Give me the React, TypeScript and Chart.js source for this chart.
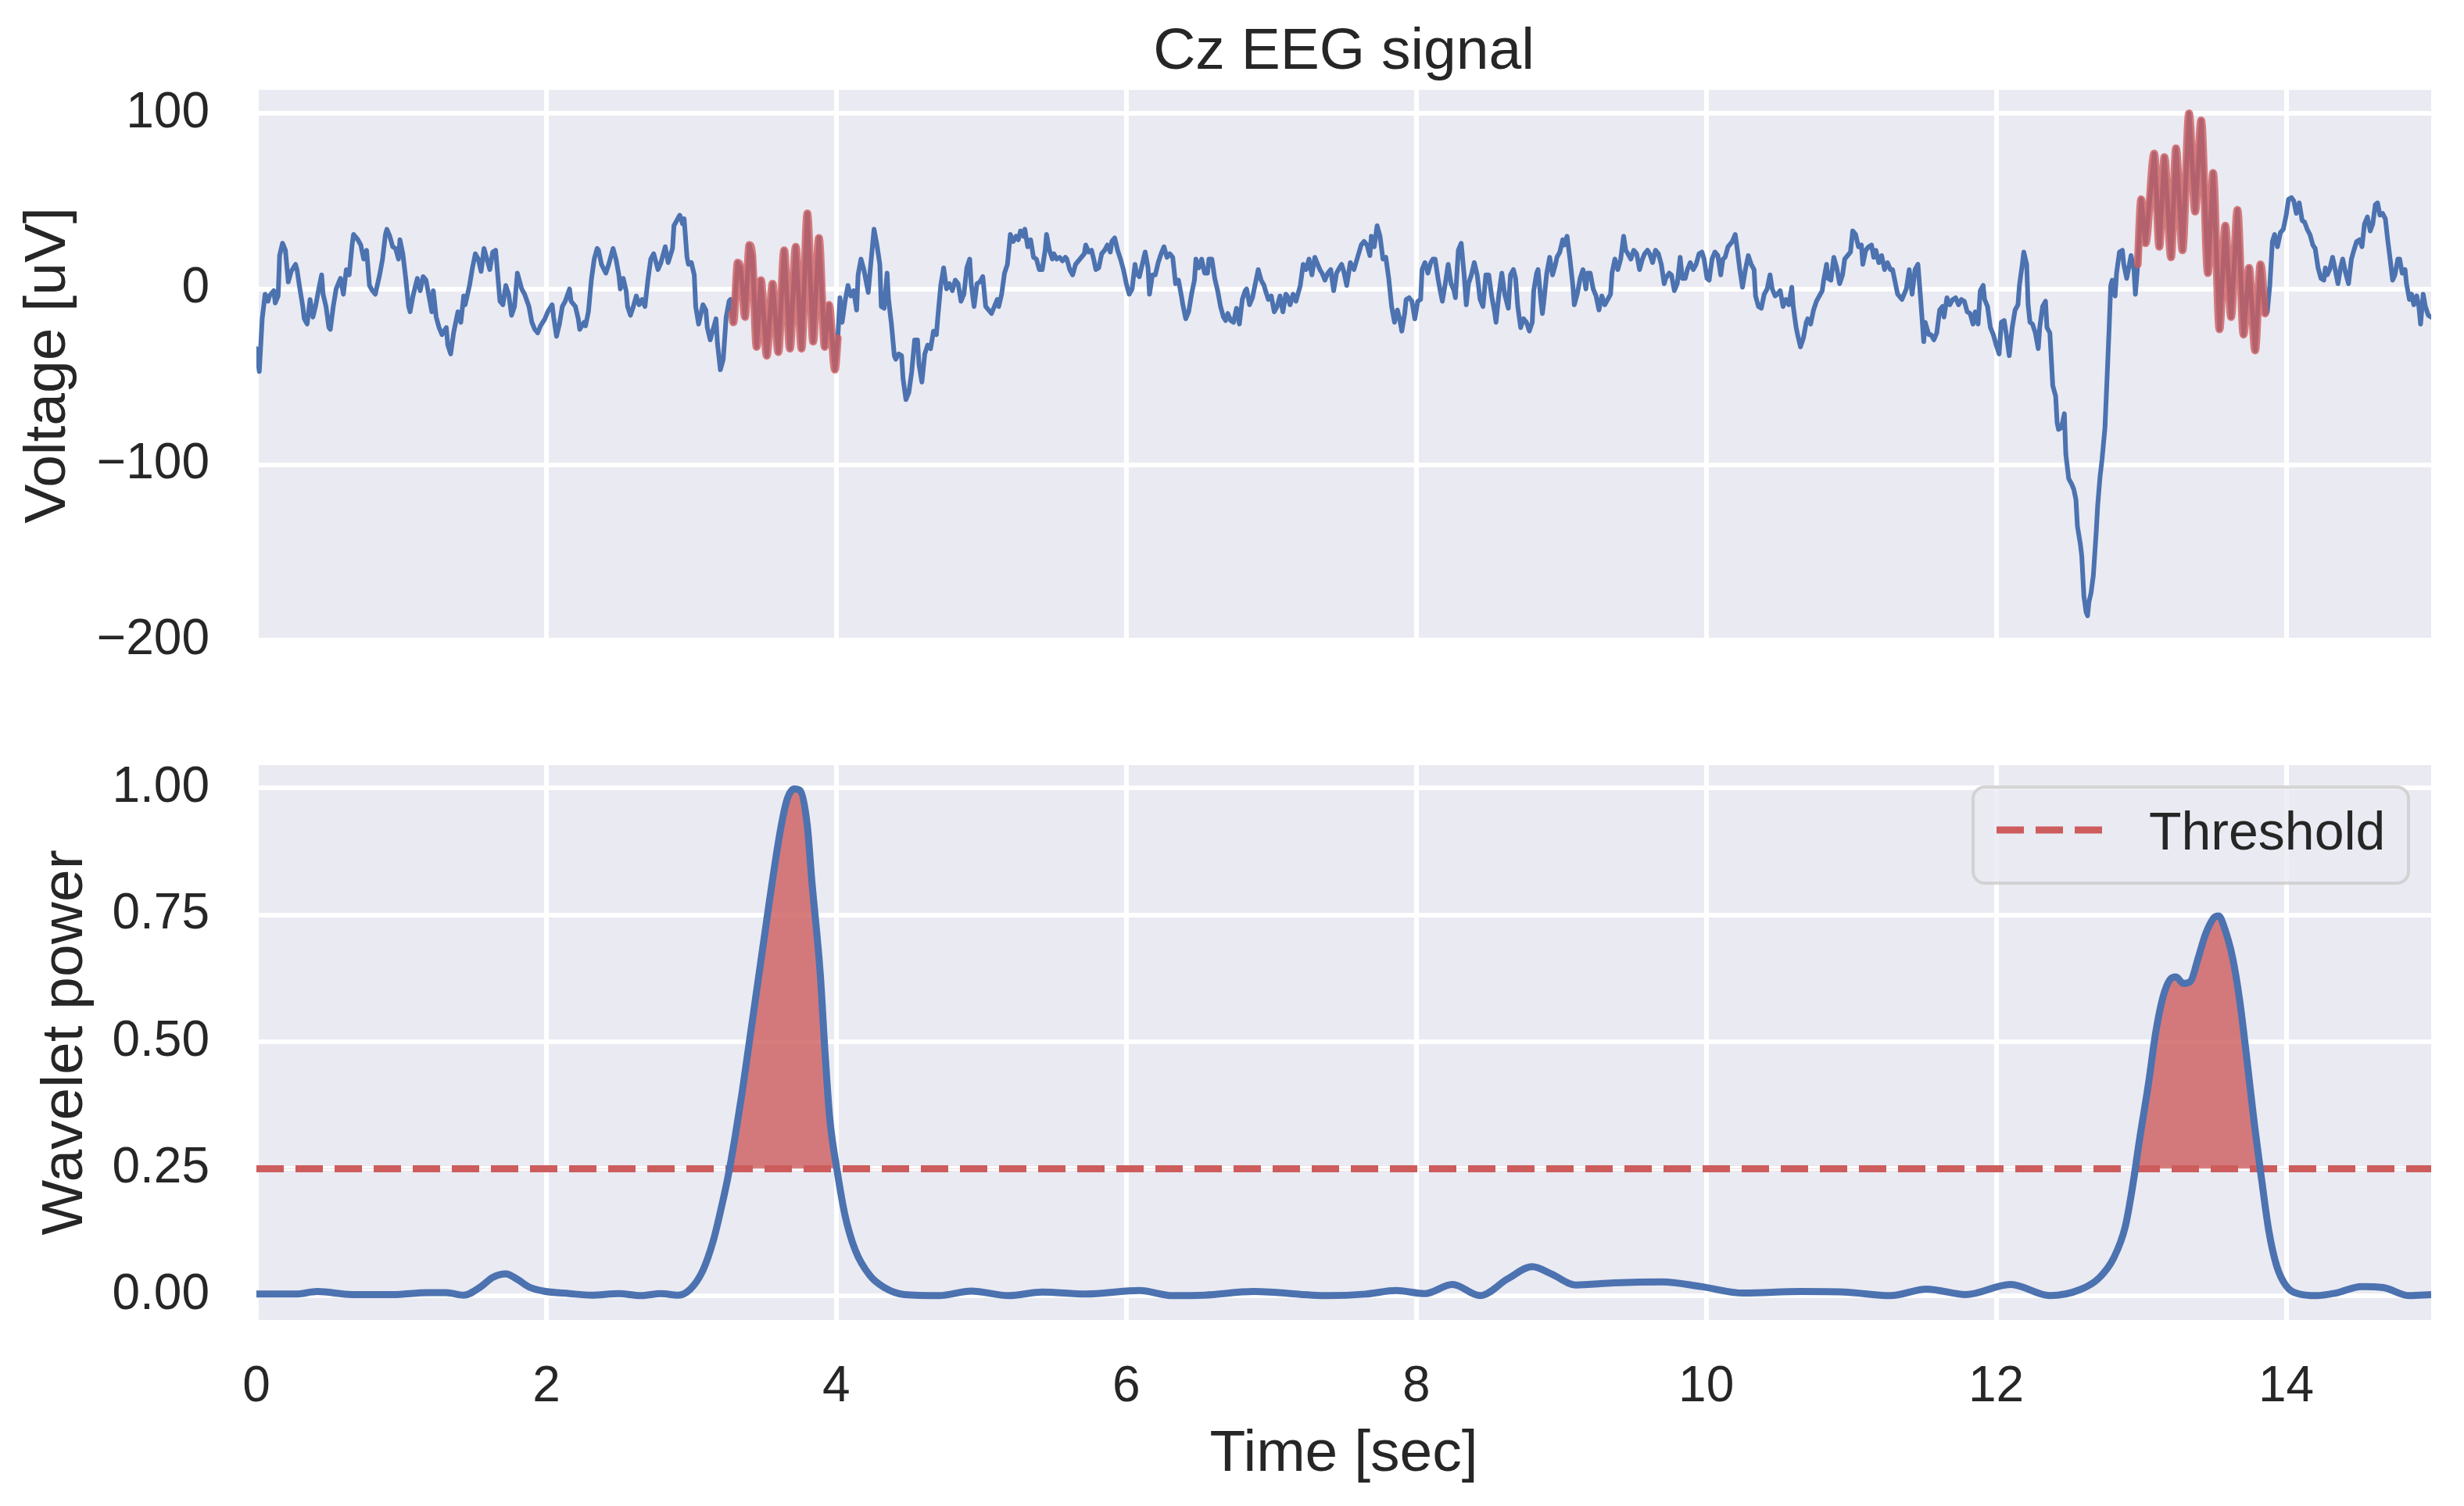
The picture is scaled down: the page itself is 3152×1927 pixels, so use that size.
import { useEffect, useRef } from "react";
import { Chart, registerables } from "chart.js";

Chart.register(...registerables);

// ---------------- DATA ----------------
const TITLE = "Cz EEG signal";
const Y_LABEL_TOP = "Voltage [uV]";
const Y_LABEL_BOTTOM = "Wavelet power";
const X_LABEL = "Time [sec]";
const LEGEND_LABEL = "Threshold";
const THRESHOLD = 0.25;

const X_TICKS = [0, 2, 4, 6, 8, 10, 12, 14];
const Y_TICKS_TOP = [-200, -100, 0, 100];
const Y_TICKS_BOTTOM = [0, 0.25, 0.5, 0.75, 1.0];

// EEG signal [time (s), voltage (uV)]
const eegSegmentA: [number, number][] = [
  [0.0, -34], [0.02, -47], [0.04, -17], [0.06, -3], [0.08, -7], [0.09, -4], [0.12, -1], [0.13, -8], [0.15, -4],
  [0.16, 19], [0.18, 26], [0.2, 22], [0.22, 4], [0.24, 10], [0.27, 14], [0.28, 11], [0.3, 0], [0.32, -10],
  [0.33, -17], [0.35, -20], [0.37, -6], [0.39, -16], [0.41, -9], [0.43, 0], [0.45, 8], [0.46, -3], [0.48, -10],
  [0.5, -22], [0.51, -23], [0.53, -10], [0.55, 0], [0.58, 6], [0.6, -3], [0.62, 11], [0.64, 8], [0.66, 25],
  [0.67, 31], [0.7, 28], [0.72, 25], [0.74, 17], [0.76, 22], [0.78, 2], [0.8, -1], [0.82, -3], [0.85, 8],
  [0.87, 17], [0.89, 31], [0.9, 34], [0.92, 30], [0.94, 24], [0.96, 23], [0.98, 17], [0.99, 28], [1.01, 20],
  [1.03, 6], [1.05, -10], [1.06, -13], [1.08, -4], [1.11, 6], [1.13, -1], [1.15, 7], [1.17, 5], [1.19, -4],
  [1.21, -13], [1.22, -1], [1.24, -16], [1.26, -22], [1.28, -26], [1.31, -22], [1.32, -32], [1.34, -37],
  [1.36, -25], [1.39, -13], [1.41, -19], [1.43, -4], [1.44, -9], [1.47, 2], [1.49, 12], [1.51, 20], [1.53, 17],
  [1.55, 10], [1.57, 23], [1.59, 17], [1.61, 11], [1.63, 21], [1.65, 22], [1.68, -7], [1.7, -9], [1.72, 2],
  [1.74, -3], [1.76, -15], [1.78, -10], [1.8, 9], [1.83, 0], [1.85, -3], [1.88, -10], [1.9, -19], [1.92, -23],
  [1.94, -25], [1.96, -21], [1.99, -17], [2.01, -13], [2.04, -9], [2.05, -16], [2.07, -27], [2.09, -20],
  [2.11, -10], [2.13, -7], [2.16, 0], [2.17, -7], [2.2, -10], [2.22, -17], [2.23, -23], [2.26, -19], [2.27, -21],
  [2.29, -13], [2.31, 5], [2.33, 17], [2.35, 23], [2.36, 22], [2.38, 14], [2.41, 9], [2.43, 14], [2.46, 23],
  [2.48, 17], [2.5, 8], [2.51, 0], [2.53, 6], [2.55, -1], [2.56, -10], [2.58, -15], [2.6, -10], [2.62, -4],
  [2.64, -9], [2.66, -6], [2.68, -10], [2.7, 5], [2.72, 17], [2.74, 20], [2.77, 11], [2.79, 15], [2.82, 24],
  [2.84, 15], [2.87, 23], [2.88, 36], [2.9, 39], [2.92, 42], [2.94, 37], [2.95, 40], [2.97, 18], [2.98, 14],
  [3.0, 15], [3.02, 8], [3.03, -10], [3.05, -20], [3.08, -9], [3.1, -12], [3.11, -22], [3.13, -29], [3.15, -23],
  [3.17, -17], [3.18, -31], [3.2, -46], [3.22, -40], [3.24, -16], [3.26, -7], [3.27, -6],
];

const spindleOne: [number, number][] = [
  [3.28, -14], [3.29, -19], [3.32, 15], [3.34, 12], [3.37, -16], [3.4, 25], [3.42, 19], [3.45, -33], [3.48, 5],
  [3.52, -38], [3.56, 3], [3.6, -36], [3.64, 22], [3.68, -34], [3.72, 24], [3.76, -34], [3.8, 43], [3.84, -30],
  [3.88, 29], [3.92, -33], [3.95, -9], [3.99, -46], [4.01, -28],
];

const eegSegmentB: [number, number][] = [
  [4.025, -5], [4.04, -19], [4.06, -7], [4.08, 2], [4.1, -4], [4.12, -1], [4.14, -12], [4.15, 8], [4.17, 17],
  [4.19, 11], [4.22, -2], [4.235, 12], [4.26, 34], [4.28, 25], [4.3, 14], [4.31, -10], [4.33, -11], [4.35, 9],
  [4.36, -6], [4.38, -20], [4.4, -38], [4.41, -40], [4.43, -37], [4.45, -38], [4.46, -51], [4.48, -63],
  [4.5, -59], [4.52, -47], [4.54, -29], [4.56, -29], [4.57, -43], [4.59, -53], [4.61, -37], [4.63, -32],
  [4.65, -34], [4.67, -24], [4.69, -26], [4.7, -16], [4.72, 2], [4.74, 12], [4.76, 0], [4.78, 3], [4.8, -1],
  [4.82, 5], [4.84, 3], [4.86, -7], [4.88, -3], [4.9, 12], [4.92, 17], [4.93, 3], [4.95, -10], [4.97, 3],
  [4.99, 4], [5.01, 7], [5.03, -10], [5.05, -12], [5.07, -14], [5.09, -10], [5.11, -6], [5.12, -10], [5.14, -3],
  [5.16, 9], [5.18, 14], [5.2, 31], [5.22, 27], [5.24, 30], [5.255, 28], [5.27, 33], [5.29, 30], [5.3, 34],
  [5.32, 24], [5.34, 28], [5.36, 18], [5.38, 17], [5.4, 11], [5.42, 11], [5.44, 22], [5.45, 31], [5.47, 22],
  [5.49, 17], [5.5, 20], [5.52, 17], [5.54, 18], [5.56, 16], [5.58, 18], [5.59, 17], [5.61, 11], [5.63, 8],
  [5.65, 14], [5.67, 16], [5.69, 18], [5.71, 20], [5.72, 25], [5.74, 21], [5.76, 22], [5.775, 17], [5.79, 11],
  [5.81, 12], [5.83, 20], [5.85, 22], [5.87, 25], [5.89, 21], [5.9, 27], [5.92, 29], [5.94, 22], [5.96, 17],
  [5.98, 11], [6.0, 3], [6.02, -3], [6.04, 0], [6.06, 14], [6.07, 9], [6.09, 7], [6.11, 14], [6.13, 21],
  [6.15, 12], [6.16, -3], [6.18, 8], [6.2, 8], [6.22, 15], [6.24, 20], [6.26, 24], [6.28, 18], [6.3, 20],
  [6.32, 18], [6.34, 3], [6.36, 5], [6.38, -4], [6.39, -9], [6.41, -17], [6.43, -13], [6.45, -3], [6.47, 5],
  [6.48, 17], [6.5, 12], [6.52, 17], [6.54, 9], [6.56, 9], [6.57, 17], [6.59, 17], [6.61, 6], [6.63, -1],
  [6.65, -10], [6.67, -16], [6.685, -18], [6.7, -14], [6.72, -18], [6.74, -19], [6.76, -11], [6.78, -20],
  [6.8, -6], [6.82, -1], [6.83, 0], [6.85, -9], [6.87, -5], [6.89, 3], [6.91, 11], [6.93, 5], [6.95, 2],
  [6.96, -1], [6.98, -6], [7.0, -4], [7.02, -13], [7.04, -10], [7.06, -4], [7.08, -13], [7.1, -3], [7.11, -4],
  [7.13, -9], [7.15, -3], [7.17, -7], [7.19, -1], [7.2, 2], [7.22, 14], [7.24, 11], [7.26, 17], [7.28, 8],
  [7.3, 18], [7.32, 14], [7.335, 11], [7.35, 9], [7.37, 5], [7.39, 9], [7.41, 11], [7.43, -1], [7.45, 9],
  [7.47, 12], [7.485, 14], [7.5, 10], [7.52, 2], [7.545, 15], [7.57, 11], [7.595, 18], [7.62, 25], [7.64, 27],
  [7.66, 25], [7.68, 19], [7.69, 30], [7.71, 24], [7.73, 36], [7.75, 30], [7.77, 17], [7.79, 18], [7.81, 6],
  [7.83, -10], [7.85, -19], [7.87, -12], [7.885, -17], [7.9, -24], [7.92, -14], [7.93, -6], [7.95, -5],
  [7.97, -7], [7.99, -17], [8.01, -7], [8.03, -6], [8.04, 11], [8.06, 15], [8.08, 9], [8.1, 15], [8.115, 17],
  [8.13, 17], [8.15, 6], [8.165, -1], [8.18, -7], [8.2, 3], [8.22, 14], [8.24, 3], [8.26, -1], [8.27, -5],
  [8.29, 22], [8.31, 26], [8.33, 8], [8.345, -9], [8.36, 3], [8.38, 8], [8.4, 15], [8.42, 8], [8.44, -6],
  [8.46, -10], [8.48, 8], [8.5, 8], [8.52, -4], [8.54, -13], [8.55, -19], [8.57, -3], [8.59, 9], [8.61, -3],
  [8.635, -11], [8.65, 8], [8.67, 11], [8.685, 6], [8.7, -10], [8.72, -22], [8.74, -17], [8.76, -19],
  [8.78, -24], [8.8, -19], [8.81, -1], [8.83, 9], [8.84, 11], [8.86, -7], [8.87, -14], [8.88, -7], [8.9, 9],
  [8.92, 18], [8.94, 8], [8.96, 14], [8.97, 18], [8.99, 21], [9.01, 28], [9.02, 25], [9.04, 30], [9.06, 17],
  [9.08, 2], [9.09, -9], [9.11, -3], [9.13, 6], [9.15, 11], [9.17, 0], [9.18, 9], [9.2, 9], [9.22, 0],
  [9.24, -4], [9.26, -12], [9.28, -4], [9.3, -9], [9.32, -6], [9.34, -3], [9.35, 9], [9.37, 17], [9.39, 11],
  [9.41, 17], [9.43, 30], [9.445, 22], [9.46, 20], [9.48, 17], [9.5, 22], [9.52, 20], [9.54, 11], [9.56, 17],
  [9.575, 20], [9.595, 22], [9.61, 20], [9.63, 15], [9.65, 22], [9.67, 20], [9.69, 14], [9.71, 3], [9.72, 6],
  [9.745, 9], [9.76, 8], [9.78, -1], [9.8, 3], [9.82, 18], [9.835, 6], [9.855, 6], [9.87, 11], [9.89, 15],
  [9.91, 11], [9.93, 14], [9.95, 20], [9.97, 21], [9.985, 17], [10.005, 6], [10.02, 5], [10.04, 17],
  [10.06, 21], [10.08, 19], [10.1, 8], [10.115, 17], [10.13, 18], [10.15, 24], [10.18, 27], [10.2, 31],
  [10.215, 22], [10.23, 12], [10.25, 1], [10.27, 11], [10.29, 19], [10.31, 14], [10.33, 11], [10.34, -4],
  [10.36, -10], [10.38, -11], [10.4, -3], [10.42, 0], [10.44, 8], [10.455, 0], [10.475, -4], [10.49, -3],
  [10.51, -1], [10.53, -10], [10.55, -6], [10.57, -9], [10.59, 1], [10.6, -10], [10.62, -22], [10.63, -26],
  [10.65, -33], [10.67, -28], [10.69, -19], [10.7, -17], [10.72, -20], [10.74, -12], [10.76, -7], [10.78, -4],
  [10.8, -1], [10.81, 5], [10.83, 14], [10.84, 6], [10.86, 5], [10.88, 18], [10.9, 12], [10.92, 3], [10.94, 8],
  [10.955, 17], [10.975, 19], [10.995, 21], [11.01, 33], [11.03, 31], [11.05, 24], [11.07, 25], [11.08, 14],
  [11.1, 22], [11.12, 24], [11.14, 25], [11.155, 18], [11.17, 22], [11.19, 15], [11.21, 19], [11.23, 11],
  [11.25, 15], [11.27, 11], [11.285, 11], [11.3, 5], [11.32, -3], [11.35, -6], [11.38, 0], [11.4, 11],
  [11.42, -3], [11.44, 11], [11.46, 14], [11.48, -7], [11.5, -30], [11.51, -19], [11.535, -26], [11.55, -26],
  [11.57, -29], [11.59, -25], [11.61, -12], [11.63, -10], [11.64, -16], [11.66, -5], [11.68, -9], [11.7, -6],
  [11.72, -5], [11.74, -9], [11.76, -6], [11.78, -7], [11.8, -13], [11.82, -14], [11.84, -20], [11.855, -13],
  [11.875, -20], [11.89, -1], [11.91, 2], [11.92, -6], [11.94, -10], [11.96, -22], [11.98, -26], [12.0, -32],
  [12.02, -37], [12.035, -19], [12.055, -18], [12.07, -26], [12.09, -38], [12.11, -22], [12.13, -12],
  [12.15, -9], [12.16, 2], [12.18, 14], [12.19, 21], [12.21, 14], [12.22, -9], [12.233, -19], [12.25, -20],
  [12.27, -25], [12.29, -34], [12.3, -22], [12.32, -10], [12.34, -7], [12.35, -22], [12.37, -25], [12.39, -55],
  [12.41, -61], [12.42, -76], [12.43, -80], [12.45, -79], [12.47, -71], [12.48, -94], [12.5, -108],
  [12.52, -111], [12.535, -114], [12.55, -120], [12.56, -135], [12.58, -145], [12.59, -152], [12.605, -175],
  [12.62, -184], [12.63, -186], [12.64, -178], [12.654, -173], [12.67, -163], [12.69, -138], [12.7, -123],
  [12.716, -107], [12.73, -97], [12.75, -79], [12.765, -50], [12.78, -20], [12.79, 2], [12.8, 5], [12.82, -4],
  [12.83, 9], [12.85, 21], [12.87, 22], [12.88, 14], [12.9, 6], [12.914, 12], [12.93, 19], [12.95, 11],
  [12.96, -3],
];

const spindleTwo: [number, number][] = [
  [12.976, 14], [13.0, 51], [13.03, 26], [13.09, 77], [13.125, 24], [13.16, 75], [13.206, 18], [13.24, 80],
  [13.285, 22], [13.33, 100], [13.372, 44], [13.414, 96], [13.46, 9], [13.496, 66], [13.54, -23], [13.58, 36],
  [13.62, -16], [13.664, 45], [13.706, -26], [13.744, 12], [13.786, -35], [13.823, 14], [13.855, -14],
];

const eegSegmentC: [number, number][] = [
  [13.87, -13], [13.887, 2], [13.905, 27], [13.92, 31], [13.94, 24], [13.96, 32], [13.98, 34], [14.0, 42],
  [14.016, 51], [14.036, 52], [14.053, 50], [14.07, 43], [14.09, 49], [14.11, 39], [14.127, 38], [14.145, 34],
  [14.164, 31], [14.184, 25], [14.2, 23], [14.22, 12], [14.24, 6], [14.26, 5], [14.27, 12], [14.283, 8],
  [14.3, 11], [14.32, 18], [14.338, 11], [14.357, 3], [14.375, 12], [14.39, 17], [14.41, 9], [14.43, 3],
  [14.45, 17], [14.467, 22], [14.486, 27], [14.506, 28], [14.523, 24], [14.54, 37], [14.56, 41], [14.58, 33],
  [14.597, 37], [14.615, 48], [14.63, 49], [14.647, 42], [14.665, 43], [14.684, 40], [14.7, 28], [14.717, 17],
  [14.734, 5], [14.75, 8], [14.77, 17], [14.783, 17], [14.8, 9], [14.82, 11], [14.83, 3], [14.85, -6],
  [14.865, -3], [14.88, -9], [14.9, -4], [14.915, -10], [14.927, -20], [14.945, -3], [14.96, -10], [14.98, -15],
  [15.0, -16],
];

// Wavelet power [time (s), normalized power]
const waveletPower: [number, number][] = [
  [0.0, 0.003], [0.27, 0.003], [0.42, 0.008], [0.66, 0.002], [0.94, 0.002], [1.18, 0.006], [1.31, 0.006],
  [1.43, 0.001], [1.55, 0.018], [1.63, 0.036], [1.72, 0.043], [1.8, 0.032], [1.88, 0.017], [1.98, 0.009],
  [2.16, 0.004], [2.31, 0.001], [2.5, 0.004], [2.65, 0.0], [2.79, 0.004], [2.91, 0.001], [2.99, 0.012],
  [3.08, 0.05], [3.15, 0.107], [3.2, 0.165], [3.25, 0.23], [3.3, 0.31], [3.35, 0.4], [3.4, 0.5], [3.47, 0.64],
  [3.54, 0.78], [3.61, 0.91], [3.66, 0.977], [3.71, 0.998], [3.75, 0.995], [3.8, 0.925], [3.83, 0.82],
  [3.89, 0.63], [3.92, 0.487], [3.955, 0.348], [4.006, 0.245], [4.06, 0.158], [4.13, 0.09], [4.23, 0.04],
  [4.33, 0.016], [4.47, 0.002], [4.71, 0.0], [4.93, 0.009], [5.19, 0.0], [5.42, 0.007], [5.72, 0.003],
  [6.09, 0.01], [6.32, 0.0], [6.54, 0.001], [6.88, 0.008], [7.39, 0.0], [7.65, 0.003], [7.86, 0.01],
  [8.06, 0.004], [8.25, 0.022], [8.44, 0.0], [8.63, 0.033], [8.8, 0.057], [8.93, 0.043], [9.1, 0.021],
  [9.36, 0.025], [9.7, 0.027], [9.96, 0.018], [10.26, 0.005], [10.65, 0.008], [10.95, 0.007], [11.27, 0.0],
  [11.52, 0.013], [11.79, 0.002], [12.1, 0.022], [12.37, 0.0], [12.58, 0.012], [12.71, 0.035], [12.81, 0.074],
  [12.89, 0.136], [12.94, 0.214], [12.99, 0.31], [13.05, 0.417], [13.1, 0.518], [13.15, 0.588], [13.2, 0.623],
  [13.24, 0.628], [13.29, 0.615], [13.34, 0.619], [13.39, 0.662], [13.445, 0.713], [13.5, 0.744],
  [13.535, 0.748], [13.57, 0.728], [13.63, 0.666], [13.68, 0.58], [13.73, 0.463], [13.78, 0.339], [13.83, 0.23],
  [13.88, 0.128], [13.935, 0.058], [14.0, 0.019], [14.08, 0.004], [14.21, 0.0], [14.34, 0.005], [14.52, 0.018],
  [14.67, 0.016], [14.85, 0.0], [15.0, 0.002],
];

// ---------------- STYLE ----------------
const FONT = "'Liberation Sans', Arial, Helvetica, sans-serif";
const TEXT_COLOR = "#262626";
const AX_BG = "#EAEAF2";
const BLUE = "#4C72B0";
const RED = "#CD5C5C";
const RED_ALPHA = "rgba(205,92,92,0.8)";
const GRID_W = 6;
const TICK_SIZE = 64;
const LABEL_SIZE = 75;
const LEGEND_SIZE = 68;

const W = 3152;
const TOP_H = 900;
const BOT_H = 1927 - TOP_H;
const AX_LEFT = 328;
const AX_RIGHT = 3110;
const TOP_AREA = { top: 115, bottom: 820 };
const BOT_AREA = { top: 979 - TOP_H, bottom: 1689 - TOP_H };

const toXY = (pts: [number, number][]) => pts.map(([x, y]) => ({ x, y }));

const bgPlugin = {
  id: "axbg",
  beforeDraw(chart: any) {
    const { ctx, chartArea: a } = chart;
    ctx.save();
    ctx.fillStyle = "#ffffff";
    ctx.fillRect(0, 0, chart.width, chart.height);
    ctx.fillStyle = AX_BG;
    ctx.fillRect(a.left, a.top, a.right - a.left, a.bottom - a.top);
    ctx.restore();
  },
};

type TextItem = { text: string; x: number; y: number; size: number; rot?: number };
const textPlugin = (items: TextItem[]) => ({
  id: "texts",
  afterDraw(chart: any) {
    const ctx = chart.ctx;
    for (const it of items) {
      ctx.save();
      ctx.font = `${it.size}px ${FONT}`;
      ctx.fillStyle = TEXT_COLOR;
      ctx.textAlign = "center";
      ctx.textBaseline = "alphabetic";
      ctx.translate(it.x, it.y);
      if (it.rot) ctx.rotate(it.rot);
      ctx.fillText(it.text, 0, 0);
      ctx.restore();
    }
  },
});

const legendPlugin = {
  id: "threshLegend",
  afterDraw(chart: any) {
    const ctx = chart.ctx;
    const x0 = 2524, y0 = 107, x1 = 3081, y1 = 230, r = 15;
    ctx.save();
    ctx.beginPath();
    ctx.moveTo(x0 + r, y0);
    ctx.arcTo(x1, y0, x1, y1, r);
    ctx.arcTo(x1, y1, x0, y1, r);
    ctx.arcTo(x0, y1, x0, y0, r);
    ctx.arcTo(x0, y0, x1, y0, r);
    ctx.closePath();
    ctx.fillStyle = "rgba(234,234,242,0.8)";
    ctx.fill();
    ctx.lineWidth = 4;
    ctx.strokeStyle = "rgba(204,204,204,0.8)";
    ctx.stroke();
    ctx.beginPath();
    ctx.setLineDash([35, 15]);
    ctx.moveTo(2554, 162);
    ctx.lineTo(2689, 162);
    ctx.lineWidth = 9;
    ctx.strokeStyle = RED;
    ctx.stroke();
    ctx.setLineDash([]);
    ctx.font = `${LEGEND_SIZE}px ${FONT}`;
    ctx.fillStyle = TEXT_COLOR;
    ctx.textAlign = "left";
    ctx.textBaseline = "alphabetic";
    ctx.fillText(LEGEND_LABEL, 2749, 187);
    ctx.restore();
  },
};

const gridOpts = { color: "#ffffff", lineWidth: GRID_W, drawTicks: false };
const tickFont = { family: FONT, size: TICK_SIZE };
const fixTicks = (vals: number[]) => (axis: any) => {
  axis.ticks = vals.map((v) => ({ value: v }));
};
const fmtVolt = (v: number) => (v < 0 ? "\u2212" + Math.abs(v) : String(v));
const yFit = (s: any) => {
  s.width = AX_LEFT;
  s.paddingTop = 0;
  s.paddingBottom = 0;
};

// nudge layout padding so that the plotting area lands exactly where wanted
const pinArea = (chart: any, want: { top: number; bottom: number }) => {
  for (let i = 0; i < 4; i++) {
    const a = chart.chartArea;
    const p = chart.options.layout.padding;
    const dT = want.top - a.top;
    const dB = a.bottom - want.bottom;
    const dR = a.right - AX_RIGHT;
    if (Math.abs(dT) + Math.abs(dB) + Math.abs(dR) < 0.5) break;
    p.top = Math.max(0, p.top + dT);
    p.bottom = Math.max(0, p.bottom + dB);
    p.right = Math.max(0, p.right + dR);
    chart.update();
  }
};

export default function App() {
  const topRef = useRef<HTMLCanvasElement>(null);
  const botRef = useRef<HTMLCanvasElement>(null);

  useEffect(() => {
    document.body.style.margin = "0";
    const blue = [...eegSegmentA, ...spindleOne, ...eegSegmentB, ...spindleTwo, ...eegSegmentC];

    const top = new Chart(topRef.current as HTMLCanvasElement, {
      type: "line",
      data: {
        datasets: [
          {
            data: toXY(spindleOne),
            borderColor: RED_ALPHA,
            borderWidth: 10,
            cubicInterpolationMode: "monotone",
            pointRadius: 0,
            order: 0,
            clip: 0,
          } as any,
          {
            data: toXY(spindleTwo),
            borderColor: RED_ALPHA,
            borderWidth: 10,
            cubicInterpolationMode: "monotone",
            pointRadius: 0,
            order: 0,
            clip: 0,
          } as any,
          {
            data: toXY(blue),
            borderColor: BLUE,
            borderWidth: 6,
            pointRadius: 0,
            order: 1,
            clip: 0,
          } as any,
        ],
      },
      options: {
        responsive: false,
        animation: false,
        devicePixelRatio: 1,
        layout: {
          autoPadding: false,
          padding: { top: TOP_AREA.top, right: W - AX_RIGHT, bottom: TOP_H - TOP_AREA.bottom, left: 0 },
        },
        elements: { line: { borderJoinStyle: "round", borderCapStyle: "round" }, point: { radius: 0 } },
        plugins: { legend: { display: false }, tooltip: { enabled: false }, title: { display: false } },
        scales: {
          x: {
            type: "linear",
            min: 0,
            max: 15,
            afterBuildTicks: fixTicks(X_TICKS),
            afterFit: (s: any) => {
              s.height = 0;
              s.paddingLeft = 0;
              s.paddingRight = 0;
            },
            ticks: { display: false },
            grid: gridOpts,
            border: { display: false },
          },
          y: {
            type: "linear",
            min: -200.3,
            max: 113.3,
            afterBuildTicks: fixTicks(Y_TICKS_TOP),
            afterFit: yFit,
            ticks: { font: tickFont, color: TEXT_COLOR, padding: 60, callback: (v: any) => fmtVolt(Number(v)) },
            grid: gridOpts,
            border: { display: false },
          },
        },
      } as any,
      plugins: [
        bgPlugin,
        textPlugin([
          { text: TITLE, x: (AX_LEFT + AX_RIGHT) / 2, y: 88, size: LABEL_SIZE },
          { text: Y_LABEL_TOP, x: 83, y: (TOP_AREA.top + TOP_AREA.bottom) / 2, size: LABEL_SIZE, rot: -Math.PI / 2 },
        ]),
      ],
    });
    pinArea(top, TOP_AREA);

    const bot = new Chart(botRef.current as HTMLCanvasElement, {
      type: "line",
      data: {
        datasets: [
          {
            data: toXY(waveletPower),
            borderColor: BLUE,
            borderWidth: 9,
            cubicInterpolationMode: "monotone",
            pointRadius: 0,
            fill: { target: { value: THRESHOLD }, above: RED_ALPHA, below: "rgba(0,0,0,0)" },
            order: 0,
            clip: 0,
          } as any,
          {
            data: [{ x: 0, y: THRESHOLD }, { x: 15, y: THRESHOLD }],
            borderColor: RED,
            borderWidth: 9,
            borderDash: [35, 15],
            borderCapStyle: "butt",
            pointRadius: 0,
            order: 1,
            fill: false,
            clip: 0,
          } as any,
        ],
      },
      options: {
        responsive: false,
        animation: false,
        devicePixelRatio: 1,
        layout: {
          autoPadding: false,
          padding: { top: BOT_AREA.top, right: W - AX_RIGHT, bottom: 20, left: 0 },
        },
        elements: { line: { borderJoinStyle: "round" }, point: { radius: 0 } },
        plugins: {
          legend: { display: false },
          tooltip: { enabled: false },
          title: { display: false },
          filler: { drawTime: "beforeDatasetsDraw", propagate: false },
        },
        scales: {
          x: {
            type: "linear",
            min: 0,
            max: 15,
            afterBuildTicks: fixTicks(X_TICKS),
            afterFit: (s: any) => {
              s.height = BOT_H - BOT_AREA.bottom - 20;
              s.paddingLeft = 0;
              s.paddingRight = 0;
            },
            ticks: { font: tickFont, color: TEXT_COLOR, padding: 48, maxRotation: 0, callback: (v: any) => String(v) },
            grid: gridOpts,
            border: { display: false },
          },
          y: {
            type: "linear",
            min: -0.048,
            max: 1.045,
            afterBuildTicks: fixTicks(Y_TICKS_BOTTOM),
            afterFit: yFit,
            ticks: { font: tickFont, color: TEXT_COLOR, padding: 60, callback: (v: any) => Number(v).toFixed(2) },
            grid: gridOpts,
            border: { display: false },
          },
        },
      } as any,
      plugins: [
        bgPlugin,
        legendPlugin,
        textPlugin([
          { text: Y_LABEL_BOTTOM, x: 105, y: (BOT_AREA.top + BOT_AREA.bottom) / 2, size: LABEL_SIZE, rot: -Math.PI / 2 },
          { text: X_LABEL, x: (AX_LEFT + AX_RIGHT) / 2, y: 982, size: LABEL_SIZE },
        ]),
      ],
    });
    pinArea(bot, BOT_AREA);

    return () => {
      top.destroy();
      bot.destroy();
    };
  }, []);

  return (
    <div style={{ position: "relative", width: W, height: 1927, background: "#ffffff" }}>
      <canvas
        ref={topRef}
        width={W}
        height={TOP_H}
        style={{ position: "absolute", left: 0, top: 0, width: W, height: TOP_H, display: "block" }}
      />
      <canvas
        ref={botRef}
        width={W}
        height={BOT_H}
        style={{ position: "absolute", left: 0, top: TOP_H, width: W, height: BOT_H, display: "block" }}
      />
    </div>
  );
}
